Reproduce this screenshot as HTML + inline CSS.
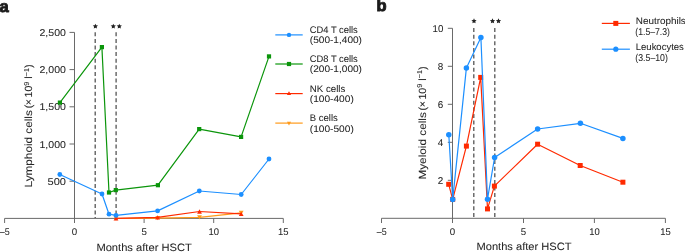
<!DOCTYPE html>
<html><head><meta charset="utf-8"><style>
html,body{margin:0;padding:0;background:#fff;}
body{width:685px;height:252px;overflow:hidden;}
svg{display:block;will-change:transform;text-rendering:geometricPrecision;}
text{font-family:"Liberation Sans",sans-serif;fill:#262626;stroke:#262626;stroke-width:0.06px;}
</style></head><body>
<svg width="685" height="252" viewBox="0 0 685 252">
<text x="-0.4" y="11.6" font-size="16.5" font-weight="bold" style="fill:#1a1a1a;stroke:#1a1a1a;stroke-width:0.9px">a</text>
<text x="376.5" y="11.2" font-size="16.5" font-weight="bold" style="fill:#1a1a1a;stroke:#1a1a1a;stroke-width:0.9px">b</text>
<line x1="74.5" y1="32.4" x2="74.5" y2="223" stroke="#6a6a6a" stroke-width="1"/>
<line x1="69.5" y1="32.4" x2="74.5" y2="32.4" stroke="#6a6a6a" stroke-width="1"/>
<line x1="69.5" y1="69.6" x2="74.5" y2="69.6" stroke="#6a6a6a" stroke-width="1"/>
<line x1="69.5" y1="106.8" x2="74.5" y2="106.8" stroke="#6a6a6a" stroke-width="1"/>
<line x1="69.5" y1="144.0" x2="74.5" y2="144.0" stroke="#6a6a6a" stroke-width="1"/>
<line x1="69.5" y1="181.2" x2="74.5" y2="181.2" stroke="#6a6a6a" stroke-width="1"/>
<line x1="4.6" y1="218.4" x2="283.3" y2="218.4" stroke="#6a6a6a" stroke-width="1"/>
<line x1="4.6" y1="218.4" x2="4.6" y2="223" stroke="#6a6a6a" stroke-width="1"/>
<line x1="74.5" y1="218.4" x2="74.5" y2="223" stroke="#6a6a6a" stroke-width="1"/>
<line x1="144.1" y1="218.4" x2="144.1" y2="223" stroke="#6a6a6a" stroke-width="1"/>
<line x1="213.7" y1="218.4" x2="213.7" y2="223" stroke="#6a6a6a" stroke-width="1"/>
<line x1="283.3" y1="218.4" x2="283.3" y2="223" stroke="#6a6a6a" stroke-width="1"/>
<text x="65.9" y="36.0" font-size="9.9" text-anchor="end" textLength="26.4" lengthAdjust="spacingAndGlyphs">2,500</text>
<text x="65.9" y="73.19999999999999" font-size="9.9" text-anchor="end" textLength="26.4" lengthAdjust="spacingAndGlyphs">2,000</text>
<text x="65.9" y="110.39999999999999" font-size="9.9" text-anchor="end" textLength="26.4" lengthAdjust="spacingAndGlyphs">1,500</text>
<text x="65.9" y="147.6" font-size="9.9" text-anchor="end" textLength="26.4" lengthAdjust="spacingAndGlyphs">1,000</text>
<text x="65.9" y="184.79999999999998" font-size="9.9" text-anchor="end" textLength="18.4" lengthAdjust="spacingAndGlyphs">500</text>
<text x="4.8" y="235.4" font-size="9.7" text-anchor="middle" textLength="9.9" lengthAdjust="spacingAndGlyphs">–5</text>
<text x="74.5" y="235.4" font-size="9.7" text-anchor="middle">0</text>
<text x="144.1" y="235.4" font-size="9.7" text-anchor="middle">5</text>
<text x="213.7" y="235.4" font-size="9.7" text-anchor="middle" textLength="10.5" lengthAdjust="spacingAndGlyphs">10</text>
<text x="283.3" y="235.4" font-size="9.7" text-anchor="middle" textLength="10.5" lengthAdjust="spacingAndGlyphs">15</text>
<text x="144.1" y="251.3" font-size="10.6" text-anchor="middle" textLength="95.4" lengthAdjust="spacingAndGlyphs">Months after HSCT</text>
<text transform="translate(32.4,187.4) rotate(-90)" style="stroke-width:0.08px" font-size="10.4" textLength="77.2" lengthAdjust="spacingAndGlyphs">Lymphoid cells</text>
<text transform="translate(32.4,108.3) rotate(-90)" style="stroke-width:0.08px" font-size="10.4" textLength="43.8" lengthAdjust="spacingAndGlyphs">(<tspan dx="-0.5">×</tspan><tspan dx="1.6">10</tspan><tspan dy="-3.8" font-size="7.2">9</tspan><tspan dy="3.8"> l</tspan><tspan dy="-3.8" font-size="7.2">−1</tspan><tspan dy="3.8">)</tspan></text>
<line x1="95.2" y1="32.3" x2="95.2" y2="218" stroke="#555" stroke-width="1.3" stroke-dasharray="4,2.6"/>
<line x1="116.1" y1="32.3" x2="116.1" y2="218" stroke="#555" stroke-width="1.3" stroke-dasharray="4,2.6"/>
<polygon points="95.40,23.65 96.16,25.35 98.02,25.55 96.64,26.80 97.02,28.62 95.40,27.70 93.78,28.62 94.16,26.80 92.78,25.55 94.64,25.35" fill="#222"/>
<polygon points="113.30,23.65 114.06,25.35 115.92,25.55 114.54,26.80 114.92,28.62 113.30,27.70 111.68,28.62 112.06,26.80 110.68,25.55 112.54,25.35" fill="#222"/>
<polygon points="119.30,23.65 120.06,25.35 121.92,25.55 120.54,26.80 120.92,28.62 119.30,27.70 117.68,28.62 118.06,26.80 116.68,25.55 118.54,25.35" fill="#222"/>
<polyline points="116.00,218.50 157.70,218.10 199.50,217.30 241.20,212.90" fill="none" stroke="#ff9a1a" stroke-width="1.2" stroke-linejoin="round"/>
<polygon points="113.60,216.34 118.40,216.34 116.00,220.66" fill="#ff9a1a"/>
<polygon points="155.30,215.94 160.10,215.94 157.70,220.26" fill="#ff9a1a"/>
<polygon points="197.10,215.14 201.90,215.14 199.50,219.46" fill="#ff9a1a"/>
<polygon points="238.80,210.74 243.60,210.74 241.20,215.06" fill="#ff9a1a"/>
<polyline points="116.00,218.40 157.60,217.30 199.50,211.50 241.20,213.80" fill="none" stroke="#ff2a00" stroke-width="1.2" stroke-linejoin="round"/>
<polygon points="113.60,220.56 118.40,220.56 116.00,216.24" fill="#ff2a00"/>
<polygon points="155.20,219.46 160.00,219.46 157.60,215.14" fill="#ff2a00"/>
<polygon points="197.10,213.66 201.90,213.66 199.50,209.34" fill="#ff2a00"/>
<polygon points="238.80,215.96 243.60,215.96 241.20,211.64" fill="#ff2a00"/>
<polyline points="59.90,102.60 101.90,47.10 109.00,192.50 115.80,190.10 157.90,185.20 199.20,129.10 241.10,136.90 269.00,56.40" fill="none" stroke="#0b950b" stroke-width="1.2" stroke-linejoin="round"/>
<rect x="57.80" y="100.50" width="4.2" height="4.2" fill="#0b950b"/>
<rect x="99.80" y="45.00" width="4.2" height="4.2" fill="#0b950b"/>
<rect x="106.90" y="190.40" width="4.2" height="4.2" fill="#0b950b"/>
<rect x="113.70" y="188.00" width="4.2" height="4.2" fill="#0b950b"/>
<rect x="155.80" y="183.10" width="4.2" height="4.2" fill="#0b950b"/>
<rect x="197.10" y="127.00" width="4.2" height="4.2" fill="#0b950b"/>
<rect x="239.00" y="134.80" width="4.2" height="4.2" fill="#0b950b"/>
<rect x="266.90" y="54.30" width="4.2" height="4.2" fill="#0b950b"/>
<polyline points="59.80,174.50 102.00,194.00 109.00,214.20 116.00,215.40 157.60,210.90 199.30,191.00 241.20,194.50 269.00,159.00" fill="none" stroke="#1c8fff" stroke-width="1.2" stroke-linejoin="round"/>
<circle cx="59.8" cy="174.5" r="2.4" fill="#1c8fff"/>
<circle cx="102.0" cy="194.0" r="2.4" fill="#1c8fff"/>
<circle cx="109.0" cy="214.2" r="2.4" fill="#1c8fff"/>
<circle cx="116.0" cy="215.4" r="2.4" fill="#1c8fff"/>
<circle cx="157.6" cy="210.9" r="2.4" fill="#1c8fff"/>
<circle cx="199.3" cy="191.0" r="2.4" fill="#1c8fff"/>
<circle cx="241.2" cy="194.5" r="2.4" fill="#1c8fff"/>
<circle cx="269.0" cy="159.0" r="2.4" fill="#1c8fff"/>
<line x1="275.3" y1="34.9" x2="302.7" y2="34.9" stroke="#1c8fff" stroke-width="1.2"/>
<circle cx="289" cy="34.9" r="2.2" fill="#1c8fff"/>
<text x="309.8" y="32.9" font-size="9.6" text-anchor="start" textLength="48.0" lengthAdjust="spacingAndGlyphs">CD4 T cells</text>
<text x="309.8" y="43.3" font-size="9.6" text-anchor="start" textLength="52.2" lengthAdjust="spacingAndGlyphs">(500-1,400)</text>
<line x1="275.3" y1="64.0" x2="302.7" y2="64.0" stroke="#0b950b" stroke-width="1.2"/>
<rect x="286.90" y="61.90" width="4.2" height="4.2" fill="#0b950b"/>
<text x="309.8" y="62.0" font-size="9.6" text-anchor="start" textLength="48.0" lengthAdjust="spacingAndGlyphs">CD8 T cells</text>
<text x="309.8" y="72.4" font-size="9.6" text-anchor="start" textLength="52.2" lengthAdjust="spacingAndGlyphs">(200-1,000)</text>
<line x1="275.3" y1="93.6" x2="302.7" y2="93.6" stroke="#ff2a00" stroke-width="1.2"/>
<polygon points="286.90,94.99 291.10,94.99 289.00,91.21" fill="#ff2a00"/>
<text x="309.8" y="91.6" font-size="9.6" text-anchor="start" textLength="35.5" lengthAdjust="spacingAndGlyphs">NK cells</text>
<text x="309.8" y="102.0" font-size="9.6" text-anchor="start" textLength="44.0" lengthAdjust="spacingAndGlyphs">(100-400)</text>
<line x1="275.3" y1="123.1" x2="302.7" y2="123.1" stroke="#ff9a1a" stroke-width="1.2"/>
<polygon points="286.90,121.71 291.10,121.71 289.00,125.49" fill="#ff9a1a"/>
<text x="309.8" y="121.1" font-size="9.6" text-anchor="start" textLength="28.0" lengthAdjust="spacingAndGlyphs">B cells</text>
<text x="309.8" y="131.5" font-size="9.6" text-anchor="start" textLength="44.0" lengthAdjust="spacingAndGlyphs">(100-500)</text>
<line x1="452.5" y1="28.3" x2="452.5" y2="223" stroke="#6a6a6a" stroke-width="1"/>
<line x1="447.8" y1="28.3" x2="452.5" y2="28.3" stroke="#6a6a6a" stroke-width="1"/>
<line x1="447.8" y1="66.3" x2="452.5" y2="66.3" stroke="#6a6a6a" stroke-width="1"/>
<line x1="447.8" y1="104.3" x2="452.5" y2="104.3" stroke="#6a6a6a" stroke-width="1"/>
<line x1="447.8" y1="142.3" x2="452.5" y2="142.3" stroke="#6a6a6a" stroke-width="1"/>
<line x1="447.8" y1="180.3" x2="452.5" y2="180.3" stroke="#6a6a6a" stroke-width="1"/>
<line x1="381.5" y1="218.3" x2="665.4" y2="218.3" stroke="#6a6a6a" stroke-width="1"/>
<line x1="381.5" y1="218.3" x2="381.5" y2="223" stroke="#6a6a6a" stroke-width="1"/>
<line x1="452.5" y1="218.3" x2="452.5" y2="223" stroke="#6a6a6a" stroke-width="1"/>
<line x1="523.5" y1="218.3" x2="523.5" y2="223" stroke="#6a6a6a" stroke-width="1"/>
<line x1="594.4" y1="218.3" x2="594.4" y2="223" stroke="#6a6a6a" stroke-width="1"/>
<line x1="665.4" y1="218.3" x2="665.4" y2="223" stroke="#6a6a6a" stroke-width="1"/>
<text x="443.3" y="31.900000000000002" font-size="9.9" text-anchor="end" textLength="10.8" lengthAdjust="spacingAndGlyphs">10</text>
<text x="443.3" y="69.89999999999999" font-size="9.9" text-anchor="end">8</text>
<text x="443.3" y="107.89999999999999" font-size="9.9" text-anchor="end">6</text>
<text x="443.3" y="145.9" font-size="9.9" text-anchor="end">4</text>
<text x="443.3" y="183.9" font-size="9.9" text-anchor="end">2</text>
<text x="381.7" y="235.4" font-size="9.7" text-anchor="middle" textLength="9.9" lengthAdjust="spacingAndGlyphs">–5</text>
<text x="452.5" y="235.4" font-size="9.7" text-anchor="middle">0</text>
<text x="523.5" y="235.4" font-size="9.7" text-anchor="middle">5</text>
<text x="594.4" y="235.4" font-size="9.7" text-anchor="middle" textLength="10.5" lengthAdjust="spacingAndGlyphs">10</text>
<text x="665.4" y="235.4" font-size="9.7" text-anchor="middle" textLength="10.5" lengthAdjust="spacingAndGlyphs">15</text>
<text x="524.0" y="249.9" font-size="10.6" text-anchor="middle" textLength="95.0" lengthAdjust="spacingAndGlyphs">Months after HSCT</text>
<text transform="translate(426.2,179.6) rotate(-90)" style="stroke-width:0.08px" font-size="10.4" textLength="67.4" lengthAdjust="spacingAndGlyphs">Myeloid cells</text>
<text transform="translate(426.2,110.4) rotate(-90)" style="stroke-width:0.08px" font-size="10.4" textLength="44.0" lengthAdjust="spacingAndGlyphs">(<tspan dx="-0.5">×</tspan><tspan dx="1.6">10</tspan><tspan dy="-3.8" font-size="7.2">9</tspan><tspan dy="3.8"> l</tspan><tspan dy="-3.8" font-size="7.2">−1</tspan><tspan dy="3.8">)</tspan></text>
<line x1="473.8" y1="28.1" x2="473.8" y2="218" stroke="#555" stroke-width="1.3" stroke-dasharray="4,2.6"/>
<line x1="494.8" y1="28.1" x2="494.8" y2="218" stroke="#555" stroke-width="1.3" stroke-dasharray="4,2.6"/>
<polygon points="474.00,18.35 474.76,20.05 476.62,20.25 475.24,21.50 475.62,23.32 474.00,22.40 472.38,23.32 472.76,21.50 471.38,20.25 473.24,20.05" fill="#222"/>
<polygon points="492.50,18.35 493.26,20.05 495.12,20.25 493.74,21.50 494.12,23.32 492.50,22.40 490.88,23.32 491.26,21.50 489.88,20.25 491.74,20.05" fill="#222"/>
<polygon points="498.50,18.35 499.26,20.05 501.12,20.25 499.74,21.50 500.12,23.32 498.50,22.40 496.88,23.32 497.26,21.50 495.88,20.25 497.74,20.05" fill="#222"/>
<polyline points="448.70,184.30 452.70,199.40 466.40,146.10 480.70,77.40 487.50,208.90 494.40,186.10 537.60,144.20 580.20,165.50 622.90,182.20" fill="none" stroke="#ff2a00" stroke-width="1.2" stroke-linejoin="round"/>
<rect x="446.20" y="181.80" width="5" height="5" fill="#ff2a00"/>
<rect x="450.20" y="196.90" width="5" height="5" fill="#ff2a00"/>
<rect x="463.90" y="143.60" width="5" height="5" fill="#ff2a00"/>
<rect x="478.20" y="74.90" width="5" height="5" fill="#ff2a00"/>
<rect x="485.00" y="206.40" width="5" height="5" fill="#ff2a00"/>
<rect x="491.90" y="183.60" width="5" height="5" fill="#ff2a00"/>
<rect x="535.10" y="141.70" width="5" height="5" fill="#ff2a00"/>
<rect x="577.70" y="163.00" width="5" height="5" fill="#ff2a00"/>
<rect x="620.40" y="179.70" width="5" height="5" fill="#ff2a00"/>
<polyline points="448.80,134.80 452.70,199.40 466.40,67.90 480.90,37.60 487.50,199.20 494.60,157.50 537.60,129.00 580.40,123.30 622.90,138.40" fill="none" stroke="#1c8fff" stroke-width="1.2" stroke-linejoin="round"/>
<circle cx="448.8" cy="134.8" r="2.75" fill="#1c8fff"/>
<circle cx="452.7" cy="199.4" r="2.75" fill="#1c8fff"/>
<circle cx="466.4" cy="67.9" r="2.75" fill="#1c8fff"/>
<circle cx="480.9" cy="37.6" r="2.75" fill="#1c8fff"/>
<circle cx="487.5" cy="199.2" r="2.75" fill="#1c8fff"/>
<circle cx="494.6" cy="157.5" r="2.75" fill="#1c8fff"/>
<circle cx="537.6" cy="129.0" r="2.75" fill="#1c8fff"/>
<circle cx="580.4" cy="123.3" r="2.75" fill="#1c8fff"/>
<circle cx="622.9" cy="138.4" r="2.75" fill="#1c8fff"/>
<line x1="601.8" y1="23.4" x2="629.9" y2="23.4" stroke="#ff2a00" stroke-width="1.2"/>
<rect x="613.30" y="20.90" width="5" height="5" fill="#ff2a00"/>
<text x="635.8" y="23.5" font-size="9.6" text-anchor="start" textLength="50" lengthAdjust="spacingAndGlyphs">Neutrophils</text>
<text x="635.3" y="34.7" font-size="9.9" text-anchor="start" textLength="34.6" lengthAdjust="spacingAndGlyphs">(1.5–7.3)</text>
<line x1="601.8" y1="49.2" x2="629.9" y2="49.2" stroke="#1c8fff" stroke-width="1.2"/>
<circle cx="615.8" cy="49.2" r="2.6" fill="#1c8fff"/>
<text x="635.8" y="50.4" font-size="9.6" text-anchor="start" textLength="48" lengthAdjust="spacingAndGlyphs">Leukocytes</text>
<text x="635.3" y="61.0" font-size="9.9" text-anchor="start" textLength="32.6" lengthAdjust="spacingAndGlyphs">(3.5–10)</text>
</svg>
</body></html>
